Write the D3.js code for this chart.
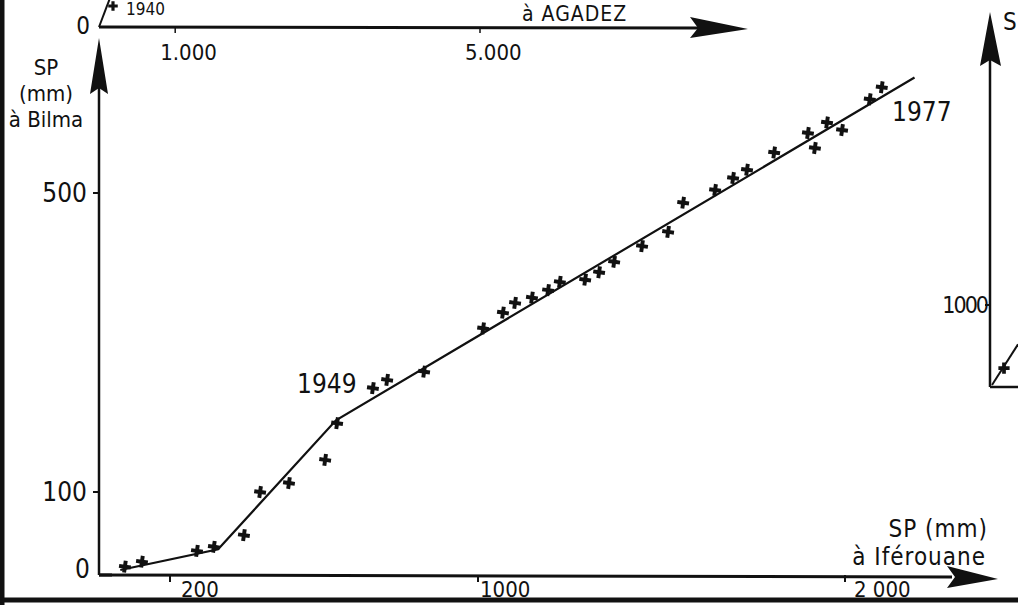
<!DOCTYPE html>
<html>
<head>
<meta charset="utf-8">
<script src="https://cdn.jsdelivr.net/npm/d3@7"></script>
<style>
  body { margin: 0; background: #fff; }
  svg { display: block; }
  text { font-family: "Liberation Sans Narrow", "DejaVu Sans Condensed", "Roboto Condensed", sans-serif; fill: #111; }
</style>
</head>
<body>
<div class="canvas"></div>
<script>
// cumulative rainfall (mm) - x: Iférouane, y: Bilma
var iferouane = [73, 121, 270, 314, 392, 434, 509, 603, 634, 727, 764, 860, 1014, 1068, 1101, 1147, 1191, 1223,
                 1292, 1330, 1371, 1447, 1518, 1559, 1646, 1695, 1733, 1807, 1899, 1918, 1951, 1992, 2068, 2101];
var bilma     = [10, 16, 29, 34, 48, 100, 112, 143, 192, 239, 250, 261, 319, 340, 353, 360, 370, 381,
                 384, 394, 408, 429, 448, 487, 504, 520, 531, 554, 580, 560, 594, 584, 625, 641];

// fitted broken line
var fitX = [60, 325, 631, 2191];
var fitY = [6, 31, 196, 654];

var xTicks = [200, 1000, 2000];
var xTickLabels = ['200', '1000', '2 000'];
var yTicks = [0, 100, 500];

// neighbouring graphs (cut off by the frame)
var topTicks = [1000, 5000];
var topTickLabels = ['1.000', '5.000'];
var rightTicks = [1000];
var rightTickLabels = ['1000'];

var width = 1018, height = 605;

var svg = d3.select('.canvas').append('svg')
  .attr('width', width).attr('height', height);

svg.append('rect').attr('width', width).attr('height', height).attr('fill', '#fff');

// hand drawn axes are not quite linear
var x = d3.scaleLinear().domain([0, 200, 1000, 2000, 2500]).range([99, 170, 478, 845, 1027]);
var y = d3.scaleLinear().domain([0, 100, 500, 700]).range([575, 492, 193, 43]);

var ink = '#111';

// frame
svg.append('line').attr('x1', 2).attr('x2', 2).attr('y1', 0).attr('y2', height)
  .attr('stroke', ink).attr('stroke-width', 5);
svg.append('line').attr('x1', 0).attr('x2', width).attr('y1', 600).attr('y2', 600)
  .attr('stroke', ink).attr('stroke-width', 5);

// main axes
svg.append('line').attr('x1', x(0)).attr('x2', 952).attr('y1', y(0)).attr('y2', y(0) + 2)
  .attr('stroke', ink).attr('stroke-width', 3);
svg.append('path').attr('d', 'M947,566 L998,579 L947,588 L955,577 Z').attr('fill', ink);

svg.append('line').attr('x1', x(0)).attr('x2', x(0)).attr('y1', y(0)).attr('y2', 88)
  .attr('stroke', ink).attr('stroke-width', 2.5);
svg.append('path').attr('d', 'M99,38 L108,94 L99,88 L90,94 Z').attr('fill', ink);
svg.append('line').attr('x1', x(0)).attr('x2', 112).attr('y1', y(0)).attr('y2', y(0))
  .attr('stroke', ink).attr('stroke-width', 3);

// y ticks
var yt = svg.append('g');
yt.selectAll('line').data(yTicks.filter(function(d){ return d > 0; })).enter().append('line')
  .attr('x1', x(0) - 6).attr('x2', x(0))
  .attr('y1', function(d){ return y(d); }).attr('y2', function(d){ return y(d); })
  .attr('stroke', ink).attr('stroke-width', 2);
yt.selectAll('text').data(yTicks).enter().append('text')
  .attr('x', function(d){ return d === 0 ? 90 : 87; })
  .attr('y', function(d){ return y(d) + (d === 0 ? 3 : 9); })
  .attr('text-anchor', 'end')
  .attr('font-size', 26)
  .text(function(d){ return d; });

// x ticks
var xt = svg.append('g');
xt.selectAll('line').data(xTicks).enter().append('line')
  .attr('x1', function(d){ return x(d); }).attr('x2', function(d){ return x(d); })
  .attr('y1', y(0)).attr('y2', y(0) + 7)
  .attr('stroke', ink).attr('stroke-width', 2);
xt.selectAll('text').data(xTicks).enter().append('text')
  .attr('x', function(d, i){ return x(d) + (i === 0 ? 11 : (i === 1 ? 2 : 9)); })
  .attr('y', 597)
  .attr('font-size', 22)
  .text(function(d, i){ return xTickLabels[i]; });

// axis titles
var yTitle = svg.append('text').attr('font-size', 22).attr('text-anchor', 'middle');
yTitle.append('tspan').attr('x', 46).attr('y', 75).text('SP');
yTitle.append('tspan').attr('x', 46).attr('y', 101).text('(mm)');
yTitle.append('tspan').attr('x', 46).attr('y', 127).text('à Bilma');

svg.append('text').attr('x', 988).attr('y', 537).attr('text-anchor', 'end')
  .attr('font-size', 24).attr('letter-spacing', 1).text('SP (mm)');
svg.append('text').attr('x', 986).attr('y', 565).attr('text-anchor', 'end')
  .attr('font-size', 24).attr('letter-spacing', 1).text('à Iférouane');

// fitted line
var line = d3.line()
  .x(function(d){ return x(d[0]); })
  .y(function(d){ return y(d[1]); });
svg.append('path').datum(d3.zip(fitX, fitY))
  .attr('d', line)
  .attr('fill', 'none').attr('stroke', ink).attr('stroke-width', 2.2);

// points
svg.append('g').selectAll('path').data(d3.zip(iferouane, bilma)).enter().append('path')
  .attr('d', d3.symbol(d3.symbolCross, 78))
  .attr('transform', function(d){ return 'translate(' + x(d[0]) + ',' + y(d[1]) + ') rotate(8)'; })
  .attr('fill', ink);

svg.append('text').attr('x', 297).attr('y', 393).attr('font-size', 26).text('1949');
svg.append('text').attr('x', 892).attr('y', 121).attr('font-size', 26).text('1977');

// top graph (Agadez), mostly out of frame
var xTop = d3.scaleLinear().domain([0, 5000]).range([99, 480]);
var topY = 27;
svg.append('line').attr('x1', xTop(0)).attr('x2', 700).attr('y1', topY).attr('y2', topY + 1)
  .attr('stroke', ink).attr('stroke-width', 3);
svg.append('path').attr('d', 'M690,17 L748,29 L690,38 L698,28 Z').attr('fill', ink);
svg.append('g').selectAll('line').data(topTicks).enter().append('line')
  .attr('x1', function(d){ return xTop(d); }).attr('x2', function(d){ return xTop(d); })
  .attr('y1', topY).attr('y2', topY + 6)
  .attr('stroke', ink).attr('stroke-width', 1.5);
svg.append('g').selectAll('text').data(topTicks).enter().append('text')
  .attr('x', function(d, i){ return xTop(d) - 15; })
  .attr('y', 60).attr('font-size', 22)
  .text(function(d, i){ return topTickLabels[i]; });
svg.append('text').attr('x', 90).attr('y', 34).attr('text-anchor', 'end').attr('font-size', 24).text('0');
svg.append('line').attr('x1', 99).attr('x2', 110).attr('y1', topY).attr('y2', -2)
  .attr('stroke', ink).attr('stroke-width', 2);
svg.append('path').attr('d', d3.symbol(d3.symbolCross, 50)).attr('transform', 'translate(113,6)').attr('fill', ink);
svg.append('text').attr('x', 126).attr('y', 15).attr('font-size', 17).text('1940');
svg.append('text').attr('x', 522).attr('y', 21).attr('font-size', 21).attr('letter-spacing', 1).text('à AGADEZ');

// right graph, mostly out of frame
var yRight = d3.scaleLinear().domain([0, 1000]).range([387, 305]);
var rx = 990;
svg.append('line').attr('x1', rx).attr('x2', rx).attr('y1', yRight(0)).attr('y2', 60)
  .attr('stroke', ink).attr('stroke-width', 2.5);
svg.append('path').attr('d', 'M990,12 L1001,66 L990,60 L980,66 Z').attr('fill', ink);
svg.append('line').attr('x1', rx).attr('x2', width).attr('y1', yRight(0)).attr('y2', yRight(0))
  .attr('stroke', ink).attr('stroke-width', 2.5);
svg.append('g').selectAll('line').data(rightTicks).enter().append('line')
  .attr('x1', rx - 5).attr('x2', rx)
  .attr('y1', function(d){ return yRight(d); }).attr('y2', function(d){ return yRight(d); })
  .attr('stroke', ink).attr('stroke-width', 2);
svg.append('g').selectAll('text').data(rightTicks).enter().append('text')
  .attr('x', rx - 3).attr('y', function(d){ return yRight(d) + 8; })
  .attr('text-anchor', 'end').attr('font-size', 23).attr('letter-spacing', -2)
  .text(function(d, i){ return rightTickLabels[i]; });
svg.append('line').attr('x1', rx + 2).attr('x2', width).attr('y1', yRight(0) - 2).attr('y2', yRight(520))
  .attr('stroke', ink).attr('stroke-width', 2);
svg.append('path').attr('d', d3.symbol(d3.symbolCross, 70)).attr('transform', 'translate(1004,' + yRight(230) + ')').attr('fill', ink);
svg.append('text').attr('x', 1003).attr('y', 30).attr('font-size', 24).text('S');
</script>
</body>
</html>
